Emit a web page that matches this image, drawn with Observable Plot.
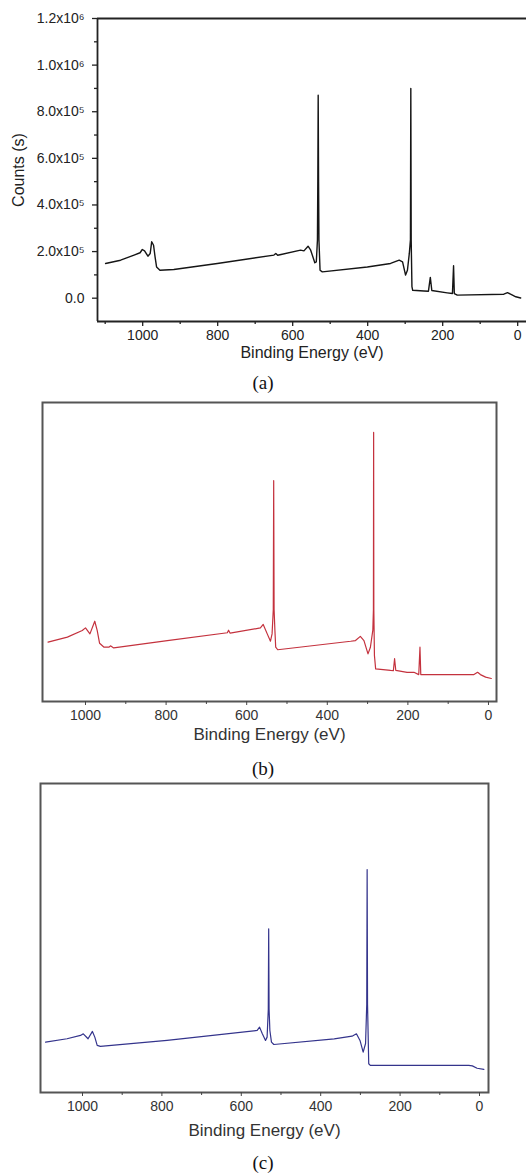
<!DOCTYPE html>
<html><head><meta charset="utf-8">
<script src="https://cdn.jsdelivr.net/npm/d3@7"></script>
<script src="https://cdn.jsdelivr.net/npm/@observablehq/plot@0.6"></script>
<style>
body{margin:0;background:#fff;}
#wrap{position:relative;width:526px;height:1175px;overflow:hidden;background:#fff;}
.panel{position:absolute;left:0;}
.cap{position:absolute;left:0;width:526px;text-align:center;font-family:"Liberation Serif","Times New Roman",serif;font-size:19px;line-height:22px;color:#111;}
</style></head><body><div id="wrap"></div>
<script>
// ---- data (binding energy in eV, counts) ----
const energyA = [1099,1059,1023,1007,1001,995,986,980,976,971,967,963,954,917,801,650,645,640,579,570,559,552,541,537,534,533,532,531,530,527,521,401,339,316,307,299,294,289,286,285,284,282,280,250,238,233,229,188,174,171,169,161,37,27,19,5,-8];
const countsA = [1.49e5,1.63e5,1.85e5,1.95e5,2.09e5,2.03e5,1.80e5,1.92e5,2.42e5,2.27e5,1.77e5,1.34e5,1.20e5,1.23e5,1.49e5,1.85e5,1.92e5,1.84e5,2.06e5,2.03e5,2.23e5,2.06e5,1.52e5,1.56e5,2.49e5,5.0e5,8.71e5,5.0e5,2.5e5,1.2e5,1.13e5,1.34e5,1.49e5,1.63e5,1.56e5,0.99e5,1.2e5,1.92e5,2.5e5,9.0e5,2.5e5,0.5e5,0.34e5,0.31e5,0.30e5,0.89e5,0.33e5,0.23e5,0.2e5,1.39e5,0.2e5,0.13e5,0.17e5,0.24e5,0.17e5,0.06e5,0.01e5];

const energyB = [1093,1045,1008,1000,989,977,971,965,954,942,938,930,797,648,645,641,566,559,549,541,537,534,533,532,530,528,523,342,330,318,309,299,293,287,285.5,285,284.5,283,280,243,236,233,230,202,185,173,170,168,36,27,20,7,-7];
const countsB = [1.58e5,1.80e5,2.09e5,2.20e5,1.94e5,2.49e5,2.09e5,1.53e5,1.36e5,1.36e5,1.42e5,1.33e5,1.65e5,1.99e5,2.10e5,1.97e5,2.20e5,2.35e5,1.94e5,1.62e5,1.94e5,3.0e5,8.6e5,3.0e5,2.1e5,1.36e5,1.25e5,1.62e5,1.65e5,1.83e5,1.65e5,1.07e5,1.36e5,2.1e5,3.0e5,1.07e6,3.0e5,1.0e5,0.42e5,0.35e5,0.34e5,0.86e5,0.35e5,0.27e5,0.27e5,0.17e5,1.36e5,0.17e5,0.17e5,0.27e5,0.17e5,0.06e5,0.0];

const energyC = [1093,1039,1005,998,986,975,969,963,955,787,560,554,547,539,535,532,531,530,528,524,518,366,321,310,301,293,287,284,283,282,279,275,27,18,6,-11];
const countsC = [1.12e5,1.26e5,1.40e5,1.47e5,1.26e5,1.57e5,1.33e5,0.98e5,0.94e5,1.19e5,1.61e5,1.75e5,1.47e5,1.19e5,1.33e5,2.5e5,5.89e5,2.5e5,1.61e5,1.12e5,1.02e5,1.26e5,1.37e5,1.47e5,1.19e5,0.70e5,1.06e5,2.7e5,8.38e5,2.7e5,0.21e5,0.14e5,0.14e5,0.12e5,0.02e5,-0.03e5];

const xMajor = [1000,800,600,400,200,0];
const xMinorA = [1100,900,700,500,300,100];
const xMinorBC = [900,700,500,300,100];
const yMajor = [0,2e5,4e5,6e5,8e5,1.0e6,1.2e6];
const yMinor = [1e5,3e5,5e5,7e5,9e5,1.1e6];
const yDomain = [-1e5,1.2e6];
const xLabel = "Binding Energy (eV)";
const yLabel = "Counts (s)";
const captions = ["(a)","(b)","(c)"];

const rows = (E,C) => E.map((e,i)=>({e, c:C[i]}));
const sans = '"Liberation Sans", Arial, sans-serif';
const supMap = {"5":"\u2075","6":"\u2076"};
const plain = d => String(d);
function sci(d){
  if (d === 0) return "0.0";
  const e = Math.floor(Math.log10(Math.abs(d)) + 1e-9);
  return (d/Math.pow(10,e)).toFixed(1) + "x10" + supMap[String(e)];
}

const wrap = document.getElementById("wrap");
function place(node, top){ node.classList.add("panel"); node.style.top = top+"px"; wrap.appendChild(node); }
function cap(text, center){ const d=document.createElement("div"); d.className="cap"; d.textContent=text; d.style.top=(center-11)+"px"; wrap.appendChild(d); }

// ---- panel (a) ----
const pa = Plot.plot({
  width:526, height:360, marginTop:18, marginBottom:39, marginLeft:97, marginRight:0,
  style:{fontFamily:sans, color:"#222", background:"transparent", overflow:"visible"},
  x:{domain:[1120.5,-23.5]},
  y:{domain:yDomain},
  marks:[
    Plot.ruleY([yDomain[1]], {stroke:"#222", strokeWidth:1.8}),
    Plot.ruleY([yDomain[0]], {stroke:"#222", strokeWidth:1.8}),
    Plot.ruleX([1120.5], {stroke:"#222", strokeWidth:1.8}),
    Plot.axisY(yMajor, {tickSize:5, tickPadding:8, tickFormat:sci, fontSize:14, label:null, strokeWidth:1.3}),
    Plot.axisY(yMinor, {tickSize:3, tickFormat:()=>"", label:null, strokeWidth:1.3}),
    Plot.axisX(xMajor, {tickSize:5, tickPadding:4, tickFormat:plain, fontSize:14, label:null, strokeWidth:1.3}),
    Plot.axisX(xMinorA, {tickSize:3, tickFormat:()=>"", label:null, strokeWidth:1.3}),
    Plot.text([xLabel], {frameAnchor:"bottom", lineAnchor:"middle", dy:31, fontSize:16, fill:"#222"}),
    Plot.text([yLabel], {frameAnchor:"left", textAnchor:"middle", lineAnchor:"middle", dx:-79, rotate:-90, fontSize:16, fill:"#222"}),
    Plot.line(rows(energyA,countsA), {x:"e", y:"c", stroke:"#151515", strokeWidth:1.4})
  ]
});
place(pa, 0);
cap(captions[0], 383);

// ---- panels (b) and (c) ----
function boxed(E, C, color, opts){
  return Plot.plot({
    width:526, height:opts.h, marginTop:opts.mt, marginBottom:opts.mb, marginLeft:opts.ml, marginRight:opts.mr,
    style:{fontFamily:sans, color:"#333", background:"transparent", overflow:"visible"},
    x:{domain:opts.xd},
    y:{domain:yDomain, axis:null},
    marks:[
      Plot.frame({stroke:"#555", strokeWidth:2}),
      Plot.axisX(xMajor, {tickSize:4, tickPadding:5, tickFormat:plain, fontSize:14, label:null, stroke:"#444"}),
      Plot.axisX(xMinorBC, {tickSize:3, tickFormat:()=>"", label:null, stroke:"#444"}),
      Plot.text([xLabel], {frameAnchor:"bottom", lineAnchor:"middle", dy:opts.ty, fontSize:17, fill:"#333"}),
      Plot.line(rows(E,C), {x:"e", y:"c", stroke:color, strokeWidth:1.2})
    ]
  });
}
const pb = boxed(energyB, countsB, "#c4323e", {h:360, mt:10, mb:51, ml:42, mr:30, xd:[1106.7,-19.9], ty:33});
place(pb, 392);
cap(captions[1], 769);

const pc = boxed(energyC, countsC, "#34348c", {h:370, mt:13, mb:48, ml:40, mr:38, xd:[1105.8,-22.7], ty:38});
place(pc, 770);
cap(captions[2], 1163);
</script></body></html>
